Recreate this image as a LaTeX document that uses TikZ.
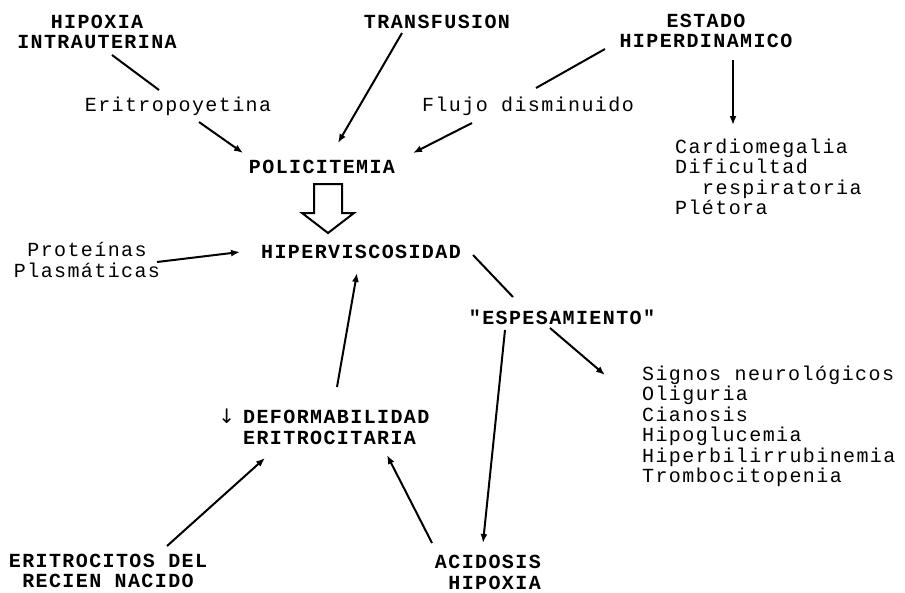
\documentclass[tikz,border=0pt]{standalone}
\usepackage{fontspec}
\usetikzlibrary{arrows.meta,calc}
\newfontfamily\dm{Liberation Mono}[LetterSpace=7]
\newfontfamily\symf{DejaVu Sans}
\begin{document}
\begin{tikzpicture}[x=1pt,y=1pt,
  lbl/.style={inner sep=0pt, font=\dm\fontsize{20}{20.5}\selectfont\bfseries},
  lbll/.style={inner sep=0pt, font=\dm\fontsize{20}{20.5}\selectfont},
  one/.style={text height=13pt,text depth=0pt},
  conn/.style={line width=2pt},
  arr/.style={conn,-{Latex[length=9pt,width=7pt]}},
]
\fill[white] (0,0) rectangle (905,-592);
\useasboundingbox (0,0) rectangle (905,-592);

\node[lbl,align=center] (hipox) at (97,-32) {HIPOXIA\\INTRAUTERINA};
\node[lbl,one] (transf) at (437,-22) {TRANSFUSION};
\node[lbl,align=center] (estado) at (706,-31) {ESTADO\\HIPERDINAMICO};
\node[lbll,one] (eritro) at (178,-105) {Eritropoyetina};
\node[lbll,one] (flujo) at (528,-105) {Flujo disminuido};
\node[lbl,one] (polic) at (322,-167) {POLICITEMIA};
\node[lbl,one] (hiperv) at (361,-252) {HIPERVISCOSIDAD};
\node[lbll,align=center] (prot) at (87,-260) {Proteínas\\Plasmáticas};
\node[lbl,one] (espes) at (562,-318) {"ESPESAMIENTO"};
\node[lbll,align=left,anchor=west] (cardio) at (675,-177) {Cardiomegalia\\Dificultad\\\hspace*{27pt}respiratoria\\Plétora};
\node[lbll,align=left,anchor=west] (signos) at (642,-426.5) {Signos neurológicos\\Oliguria\\Cianosis\\Hipoglucemia\\Hiperbilirrubinemia\\Trombocitopenia};
\node[lbl,align=left,anchor=west] (deform) at (243,-427) {\llap{{\symf\mdseries ↓}\hspace{8pt}}DEFORMABILIDAD\\ERITROCITARIA};
\node[lbl,align=center] (eritros) at (108,-571) {ERITROCITOS DEL\\RECIEN NACIDO};
\node[lbl,align=right,anchor=east] (acid) at (541,-572.5) {ACIDOSIS\\HIPOXIA};

\draw[conn] ([xshift=15pt,yshift=-23pt]hipox.center) -- ([xshift=-19pt,yshift=15pt]eritro.center);
\draw[arr] ([xshift=21pt,yshift=-17pt]eritro.center) -- ([xshift=-79pt,yshift=14pt]polic.center);
\draw[arr] ([xshift=-35pt,yshift=-11pt]transf.center) -- ([xshift=16pt,yshift=24pt]polic.center);
\draw[conn] ([xshift=-101pt,yshift=-18pt]estado.center) -- ([xshift=8pt,yshift=17pt]flujo.center);
\draw[arr] ([xshift=-56pt,yshift=-18pt]flujo.center) -- ([xshift=91pt,yshift=14pt]polic.center);
\draw[arr] ([xshift=27pt,yshift=-29pt]estado.center) -- ([xshift=58pt,yshift=52pt]cardio.west);
\draw[line width=2pt,line join=miter] ([xshift=-33pt,yshift=19pt]hiperv.center) -- ++(-26,20) -- ++(12,0) -- ++(0,29) -- ++(28,0) -- ++(0,-29) -- ++(12,0) -- cycle;
\draw[arr] ([xshift=70pt,yshift=-2pt]prot.center) -- ([xshift=-121pt,yshift=0pt]hiperv.center);
\draw[arr] ([xshift=94pt,yshift=40pt]deform.west) -- ([xshift=-4pt,yshift=-21pt]hiperv.center);
\draw[conn] ([xshift=112pt,yshift=-3pt]hiperv.center) -- ([xshift=-49pt,yshift=21pt]espes.center);
\draw[arr] ([xshift=-12pt,yshift=-10pt]espes.center) -- ([xshift=-37pt,yshift=51.5pt]signos.west);
\draw[arr] ([xshift=-57pt,yshift=-12pt]espes.center) -- ([xshift=-58pt,yshift=29.5pt]acid.east);
\draw[arr] ([xshift=59pt,yshift=25pt]eritros.center) -- ([xshift=22pt,yshift=-31pt]deform.west);
\draw[arr] ([xshift=-109pt,yshift=29.5pt]acid.east) -- ([xshift=144pt,yshift=-28pt]deform.west);
\end{tikzpicture}
\end{document}
